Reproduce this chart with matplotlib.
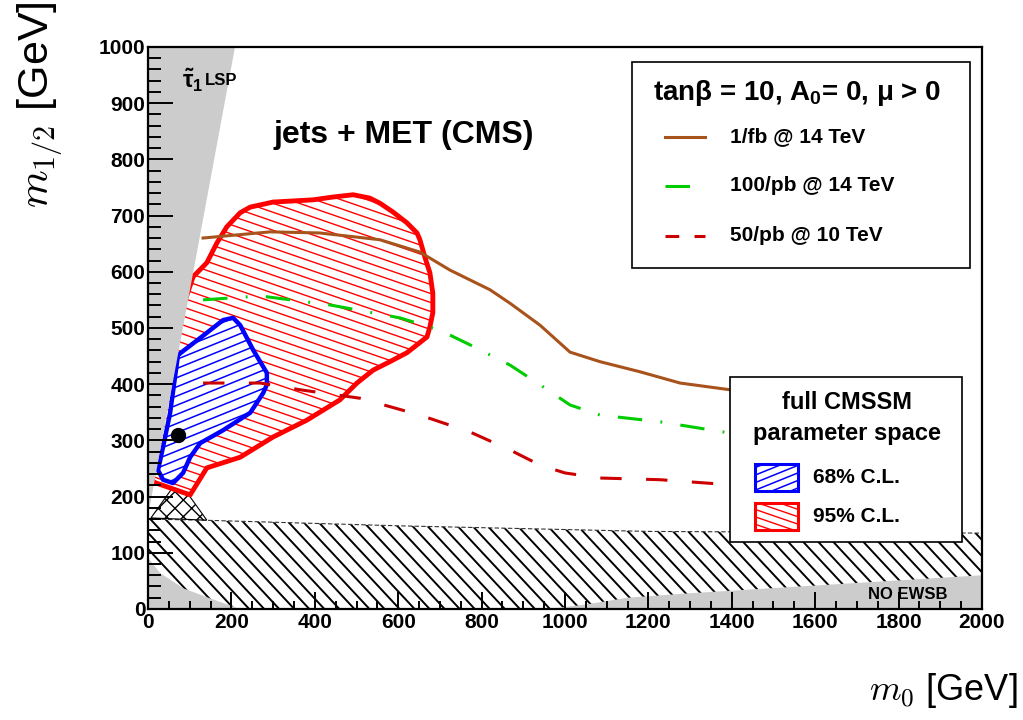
import numpy as np
import matplotlib
matplotlib.use('Agg')
import matplotlib.pyplot as plt
from matplotlib.patches import Rectangle, Polygon
from matplotlib.lines import Line2D
from matplotlib.collections import LineCollection
from matplotlib.transforms import IdentityTransform
from matplotlib.ticker import MultipleLocator

plt.rcParams['font.family'] = ['Liberation Sans', 'DejaVu Sans']
plt.rcParams['font.weight'] = 'bold'
plt.rcParams['mathtext.fontset'] = 'cm'
plt.rcParams['mathtext.rm'] = 'Liberation Sans'
plt.rcParams['mathtext.it'] = 'Liberation Sans:italic'
plt.rcParams['mathtext.bf'] = 'Liberation Sans:bold'

# 95% C.L. contour (m0, m1/2) [GeV]
cl95_m0 = [12, 101, 141, 221, 300, 381, 460, 501, 540, 580, 621, 669, 676, 683, 683, 676,
           664, 652, 645, 621, 588, 556, 532, 492, 444, 396, 348, 300, 245, 221, 189, 165,
           141, 108, 65, 29, 5]
cl95_m12 = [226, 203, 251, 270, 306, 336, 372, 402, 425, 440, 456, 484, 502, 527, 562, 598,
            626, 657, 669, 687, 706, 722, 731, 737, 733, 728, 726, 724, 715, 705, 680, 651,
            616, 591, 496, 336, 247]

# 68% C.L. contour
cl68_m0 = [72, 130, 180, 204, 221, 252, 285, 285, 276, 245, 180, 125, 101, 84, 60, 36, 24, 36, 53]
cl68_m12 = [452, 485, 514, 518, 505, 461, 420, 399, 384, 349, 318, 295, 270, 242, 224, 230, 247, 288, 349]

# best fit point
best_m0 = [72]
best_m12 = [310]

# CMS jets + MET reach curves
reach_1fb_m0 = [132, 293, 412, 556, 652, 724, 820, 868, 940, 1012, 1084, 1180, 1276, 1396]
reach_1fb_m12 = [660, 671, 669, 657, 635, 603, 568, 544, 505, 457, 440, 422, 402, 390]
reach_100pb_m0 = [132, 269, 436, 604, 700, 772, 868, 940, 1012, 1084, 1228, 1396]
reach_100pb_m12 = [550, 557, 541, 518, 496, 470, 434, 399, 363, 345, 333, 313]
reach_50pb_m0 = [132, 269, 365, 508, 652, 772, 868, 940, 1000, 1084, 1228, 1396]
reach_50pb_m12 = [402, 402, 390, 375, 345, 315, 283, 256, 242, 233, 230, 221]

# excluded regions
stau_m0 = [0, 0, 209]
stau_m12 = [165, 1000, 1000]
noewsb_left_m0 = [0, 0, 29, 84, 141, 220]
noewsb_left_m12 = [0, 91, 64, 37, 21, 0]
noewsb_right_m0 = [960, 1050, 1150, 1300, 1650, 2000, 2000]
noewsb_right_m12 = [0, 8, 20, 28, 44, 60, 0]
lep_m0 = [0, 130, 600, 1200, 2000]
lep_m12 = [160, 158, 148, 138, 135]
lep2_m0 = [7, 60, 84, 141]
lep2_m12 = [162, 217, 217, 158]

fig = plt.figure(figsize=(10.23, 7.2), dpi=100)
ax = fig.add_axes([0.1447, 0.1542, 0.8152, 0.7806])
ax.set_xlim(0, 2000)
ax.set_ylim(0, 1000)


def hatch(patch, angle, spacing, color, lw, zorder):
    # ROOT-like hatching: parallel lines in pixel space, clipped to the patch
    bb = ax.bbox
    c0 = np.array([(bb.x0 + bb.x1) / 2, (bb.y0 + bb.y1) / 2])
    R = np.hypot(bb.width, bb.height)
    a = np.deg2rad(angle)
    d = np.array([np.cos(a), np.sin(a)])
    n = np.array([-np.sin(a), np.cos(a)])
    segs = [[c0 + t * n - R * d, c0 + t * n + R * d] for t in np.arange(-R, R, spacing)]
    lc = LineCollection(segs, colors=color, linewidths=lw, transform=IdentityTransform(),
                        zorder=zorder)
    ax.add_collection(lc, autolim=False)
    lc.set_clip_path(patch)


gray = '#cccccc'

# LEP hatched band
band = ax.fill([0] + lep_m0 + [2000], [0] + lep_m12 + [0], facecolor='none', lw=0, zorder=1)[0]
hatch(band, -47, 11, 'black', 1.4, 1)
ax.plot(lep_m0, lep_m12, color='#333333', lw=0.8, ls=(0, (4, 2)), zorder=1.5)
ax.fill(lep2_m0, lep2_m12, facecolor='white', edgecolor='black', hatch='xx', linewidth=0.8, zorder=1.6)

# 95% and 68% regions
p95 = ax.fill(cl95_m0, cl95_m12, facecolor='white', lw=0, zorder=2)[0]
hatch(p95, -19, 8.5, '#ff0000', 1.0, 2.1)
ax.plot(cl95_m0 + cl95_m0[:1], cl95_m12 + cl95_m12[:1], color='#ff0000', lw=3.5, zorder=2.5,
        solid_joinstyle='round')
p68 = ax.fill(cl68_m0, cl68_m12, facecolor='white', lw=0, zorder=3)[0]
hatch(p68, 22, 8.5, '#0000ff', 1.1, 3.1)
ax.plot(cl68_m0 + cl68_m0[:1], cl68_m12 + cl68_m12[:1], color='#0000ff', lw=3.2, zorder=3.5,
        solid_joinstyle='round')

# gray theory-excluded regions
ax.fill(stau_m0, stau_m12, color=gray, lw=0, zorder=4)
ax.fill(noewsb_left_m0, noewsb_left_m12, color=gray, lw=0, zorder=4)
ax.fill(noewsb_right_m0, noewsb_right_m12, color=gray, lw=0, zorder=4)

# reach curves
ax.plot(reach_1fb_m0, reach_1fb_m12, color='#a8521c', lw=2.2, zorder=5)
ax.plot(reach_100pb_m0, reach_100pb_m12, color='#00cc00', lw=2.2, dashes=(8, 6, 0.6, 6), zorder=5)
ax.plot(reach_50pb_m0, reach_50pb_m12, color='#cc0000', lw=2.2, dashes=(7, 8), zorder=5)

ax.plot(best_m0, best_m12, 'o', color='black', ms=10, zorder=6)

# axes style
ax.xaxis.set_major_locator(MultipleLocator(200))
ax.xaxis.set_minor_locator(MultipleLocator(50))
ax.yaxis.set_major_locator(MultipleLocator(100))
ax.yaxis.set_minor_locator(MultipleLocator(20))
ax.tick_params(axis='both', which='both', direction='in', width=1.4, top=False, right=False,
               labelsize=15)
ax.tick_params(axis='y', which='major', length=18, pad=2)
ax.tick_params(axis='y', which='minor', length=9)
ax.tick_params(axis='x', which='major', length=12, pad=3)
ax.tick_params(axis='x', which='minor', length=6)
ax.xaxis.set_zorder(7)
ax.yaxis.set_zorder(7)
for lab in ax.get_xticklabels() + ax.get_yticklabels():
    lab.set_fontweight('bold')
for s in ax.spines.values():
    s.set_linewidth(1.6)
    s.set_zorder(10)

fig.text(40 / 1023, 0.998, r'$m_{1/2}$ [GeV]', rotation=90, ha='center', va='top',
         fontsize=31, fontweight='normal')
fig.text(1018 / 1023, 1 - 690 / 720, r'$m_0$ [GeV]', ha='right', va='center',
         fontsize=26, fontweight='normal')

# annotations
ax.text(0.041, 0.941, r'$\tilde{\mathrm{\tau}}_{\mathbf{1}}$', transform=ax.transAxes,
        fontsize=17, ha='left', va='center', zorder=7, math_fontfamily='custom')
ax.text(0.068, 0.941, 'LSP', transform=ax.transAxes, fontsize=12,
        ha='left', va='center', zorder=7)
ax.text(0.307, 0.843, 'jets + MET (CMS)', transform=ax.transAxes, fontsize=23,
        ha='center', va='center', zorder=7)
ax.text(0.959, 0.025, 'NO EWSB', transform=ax.transAxes, fontsize=12,
        ha='right', va='center', zorder=7)

# legend 1
tr = ax.transAxes
ax.add_patch(Rectangle((0.580, 0.607), 0.406, 0.366, transform=tr, facecolor='white',
                       edgecolor='black', lw=1.2, zorder=8))
ax.text(0.778, 0.918, r'tanβ = 10, A$_{\mathbf{0}}$= 0, μ > 0', transform=tr, fontsize=20,
        ha='center', va='center', zorder=9, math_fontfamily='custom')
leg_rows = [0.840, 0.753, 0.664]
leg_labels = ['1/fb @ 14 TeV', '100/pb @ 14 TeV', '50/pb @ 10 TeV']
leg_styles = [dict(color='#a8521c'), dict(color='#00cc00', dashes=(8, 6, 0.6, 6)),
              dict(color='#cc0000', dashes=(4.5, 5))]
for yy, lab, st in zip(leg_rows, leg_labels, leg_styles):
    ax.add_line(Line2D([0.620, 0.668], [yy, yy], transform=tr, lw=2.2, zorder=9, **st))
    ax.text(0.698, yy, lab, transform=tr, fontsize=15, ha='left', va='center', zorder=9)

# legend 2
ax.add_patch(Rectangle((0.698, 0.119), 0.278, 0.294, transform=tr, facecolor='white',
                       edgecolor='black', lw=1.2, zorder=8))
ax.text(0.838, 0.367, 'full CMSSM', transform=tr, fontsize=17, ha='center', va='center', zorder=9)
ax.text(0.838, 0.313, 'parameter space', transform=tr, fontsize=17, ha='center', va='center', zorder=9)
sw68 = Rectangle((0.728, 0.210), 0.051, 0.048, transform=tr, facecolor='white',
                 edgecolor='#0000ff', lw=2.2, zorder=9)
sw95 = Rectangle((0.728, 0.141), 0.051, 0.048, transform=tr, facecolor='white',
                 edgecolor='#ff0000', lw=2.2, zorder=9)
ax.add_patch(sw68)
ax.add_patch(sw95)
hatch(sw68, 22, 7, '#0000ff', 1.1, 9.1)
hatch(sw95, -19, 7, '#ff0000', 1.0, 9.1)
ax.text(0.797, 0.234, '68% C.L.', transform=tr, fontsize=15, ha='left', va='center', zorder=9)
ax.text(0.797, 0.165, '95% C.L.', transform=tr, fontsize=15, ha='left', va='center', zorder=9)

fig.savefig('out.png', dpi=100)
